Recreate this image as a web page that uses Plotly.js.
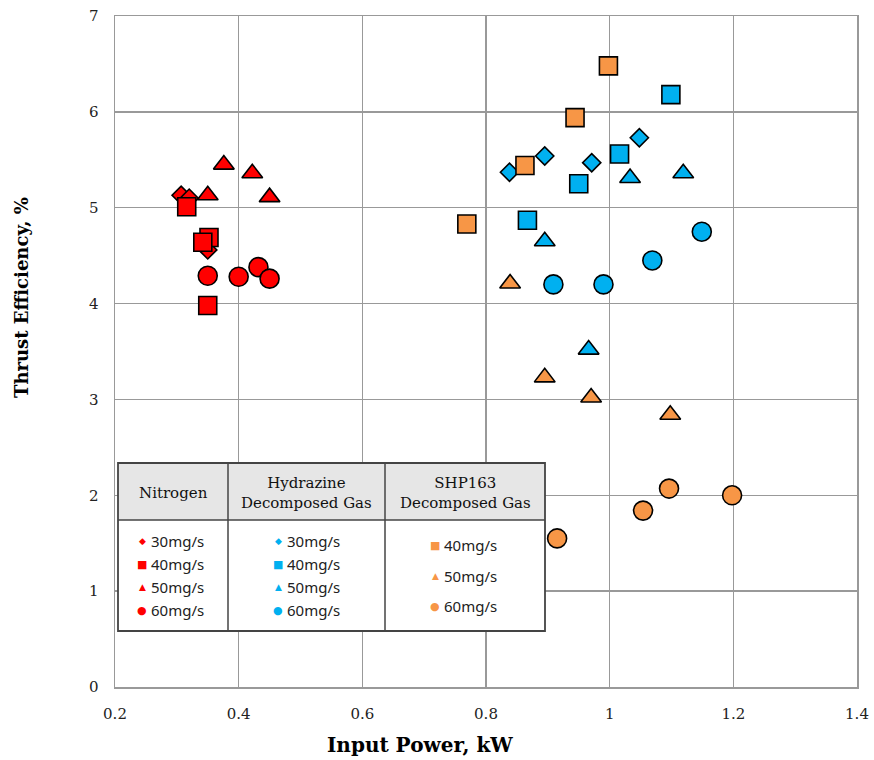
<!DOCTYPE html>
<html>
<head>
<meta charset="utf-8">
<script src="https://cdn.plot.ly/plotly-3.0.1.min.js"></script>
<style>html,body{margin:0;padding:0;background:#fff;}#chart{width:874px;height:760px;}</style>
</head>
<body>
<div id="chart"></div>
<script>
// ---- Data (Input Power kW, Thrust Efficiency %) ----
const n2_30_x = [0.307, 0.320, 0.350];
const n2_30_y = [5.13, 5.10, 4.56];
const n2_40_x = [0.316, 0.352, 0.342, 0.350];
const n2_40_y = [5.01, 4.69, 4.64, 3.98];
const n2_50_x = [0.376, 0.422, 0.350, 0.450];
const n2_50_y = [5.45, 5.36, 5.13, 5.11];
const n2_60_x = [0.350, 0.400, 0.432, 0.450];
const n2_60_y = [4.29, 4.28, 4.38, 4.26];

const hy_30_x = [0.838, 0.895, 0.971, 1.048];
const hy_30_y = [5.37, 5.54, 5.47, 5.73];
const hy_40_x = [1.099, 1.016, 0.950, 0.867];
const hy_40_y = [6.18, 5.56, 5.25, 4.87];
const hy_50_x = [1.033, 1.119, 0.895, 0.966];
const hy_50_y = [5.31, 5.36, 4.65, 3.52];
const hy_60_x = [1.149, 1.069, 0.909, 0.990];
const hy_60_y = [4.75, 4.45, 4.20, 4.20];

const shp_40_x = [0.998, 0.944, 0.863, 0.769];
const shp_40_y = [6.48, 5.94, 5.44, 4.83];
const shp_50_x = [0.839, 0.895, 0.970, 1.098];
const shp_50_y = [4.21, 3.23, 3.02, 2.84];
const shp_60_x = [0.915, 1.054, 1.096, 1.198];
const shp_60_y = [1.55, 1.84, 2.07, 2.00];

const xTicks = [0.2, 0.4, 0.6, 0.8, 1, 1.2, 1.4];
const yTicks = [0, 1, 2, 3, 4, 5, 6, 7];
const groupNames = ["Nitrogen", "Hydrazine<br>Decomposed Gas", "SHP163<br>Decomposed Gas"];
const flowLabels = ["30mg/s", "40mg/s", "50mg/s", "60mg/s"];

// ---- Styles ----
const RED = "#ff0000", BLUE = "#00b0f0", ORANGE = "#f79646";
const symSize = {diamond: 14, square: 18, "triangle-up": 18, circle: 19};

function tr(x, y, color, symbol, name) {
  return {
    type: "scatter", mode: "markers", x: x, y: y, name: name, showlegend: false,
    marker: {color: color, symbol: symbol, size: symSize[symbol], line: {color: "#000", width: 1.6}},
    cliponaxis: false
  };
}

const traces = [
  tr(n2_60_x, n2_60_y, RED, "circle", "N2 60"),
  tr(n2_50_x, n2_50_y, RED, "triangle-up", "N2 50"),
  tr(n2_30_x, n2_30_y, RED, "diamond", "N2 30"),
  tr(n2_40_x, n2_40_y, RED, "square", "N2 40"),
  tr(hy_60_x, hy_60_y, BLUE, "circle", "Hy 60"),
  tr(hy_50_x, hy_50_y, BLUE, "triangle-up", "Hy 50"),
  tr(hy_30_x, hy_30_y, BLUE, "diamond", "Hy 30"),
  tr(hy_40_x, hy_40_y, BLUE, "square", "Hy 40"),
  tr(shp_60_x, shp_60_y, ORANGE, "circle", "SHP 60"),
  tr(shp_50_x, shp_50_y, ORANGE, "triangle-up", "SHP 50"),
  tr(shp_40_x, shp_40_y, ORANGE, "square", "SHP 40")
];

// ---- Legend table (paper coords from pixel positions) ----
const W = 874, H = 760, ML = 115, MR = 17, MT = 16, MB = 73;
const PW = W - ML - MR, PH = H - MT - MB;
const px = v => (v - ML) / PW;
const py = v => (H - MB - v) / PH;

const shapes = [];
const annotations = [];
const tL = 118, tR = 545, tT = 463, tB = 631, hB = 520;
const cols = [tL, 228, 385, tR];
shapes.push({type: "rect", xref: "paper", yref: "paper", x0: px(tL), x1: px(tR), y0: py(tB), y1: py(tT),
  fillcolor: "#ffffff", line: {width: 0}, layer: "above"});
shapes.push({type: "rect", xref: "paper", yref: "paper", x0: px(tL), x1: px(tR), y0: py(hB), y1: py(tT),
  fillcolor: "#e6e6e6", line: {width: 0}, layer: "above"});
shapes.push({type: "rect", xref: "paper", yref: "paper", x0: px(tL), x1: px(tR), y0: py(tB), y1: py(tT),
  fillcolor: "rgba(0,0,0,0)", line: {color: "#444", width: 1.8}, layer: "above"});
shapes.push({type: "line", xref: "paper", yref: "paper", x0: px(tL), x1: px(tR), y0: py(hB), y1: py(hB),
  line: {color: "#444", width: 1.5}, layer: "above"});
[cols[1], cols[2]].forEach(c => shapes.push({type: "line", xref: "paper", yref: "paper",
  x0: px(c), x1: px(c), y0: py(tB), y1: py(tT), line: {color: "#444", width: 1.5}, layer: "above"}));

const hdrFont = {family: "DejaVu Serif, serif", size: 15, color: "#111"};
const bodyFont = {family: "Noto Sans, Liberation Sans, sans-serif", size: 15, color: "#222"};
for (let i = 0; i < 3; i++) {
  annotations.push({xref: "paper", yref: "paper", x: px((cols[i] + cols[i + 1]) / 2), y: py((tT + hB) / 2 + 1),
    text: groupNames[i], showarrow: false, font: hdrFont, xanchor: "center", yanchor: "middle", align: "center"});
}
const symChars = {diamond: "\u25C6", square: "\u25A0", triangle: "\u25B2", circle: "\u25CF"};
const symOrder = ["diamond", "square", "triangle", "circle"];
const symFs = {diamond: 9, square: 11, triangle: 9, circle: 11};
function legendItem(xs, ys, color, sym, label) {
  annotations.push({xref: "paper", yref: "paper", x: px(xs), y: py(ys), text: symChars[sym], showarrow: false,
    font: {family: "DejaVu Sans", size: symFs[sym], color: color}, xanchor: "center", yanchor: "middle"});
  annotations.push({xref: "paper", yref: "paper", x: px(xs + 7), y: py(ys), text: label, showarrow: false,
    font: bodyFont, xanchor: "left", yanchor: "middle"});
}
const rowsY = [541, 564, 587, 610];
for (let k = 0; k < 4; k++) legendItem(142, rowsY[k], RED, symOrder[k], flowLabels[k]);
for (let k = 0; k < 4; k++) legendItem(278, rowsY[k], BLUE, symOrder[k], flowLabels[k]);
const shpRows = [545, 576, 606];
for (let k = 0; k < 3; k++) legendItem(435, shpRows[k], ORANGE, symOrder[k + 1], flowLabels[k + 1]);

// axis titles
annotations.push({xref: "paper", yref: "paper", x: px(420), y: py(745), text: "Input Power, kW", showarrow: false,
  font: {family: "DejaVu Serif, serif", size: 20, color: "#000", weight: "bold"}, xanchor: "center", yanchor: "middle"});
annotations.push({xref: "paper", yref: "paper", x: px(21), y: py(298), text: "Thrust Efficiency, %", showarrow: false,
  textangle: -90, font: {family: "DejaVu Serif, serif", size: 18, color: "#000", weight: "bold"}, xanchor: "center", yanchor: "middle"});

const layout = {
  width: W, height: H,
  margin: {l: ML, r: MR, t: MT, b: MB, pad: 0},
  paper_bgcolor: "#fff", plot_bgcolor: "#fff",
  showlegend: false,
  xaxis: {range: [0.2, 1.4], tickvals: xTicks, ticktext: xTicks.map(String), showgrid: true, gridcolor: "#999", gridwidth: 1.5,
    zeroline: false, showline: true, linecolor: "#999", linewidth: 1.5, mirror: true, ticks: "", ticklen: 0,
    ticklabelstandoff: 12,
    tickfont: {family: "DejaVu Serif, serif", size: 15, color: "#222"}, fixedrange: true},
  yaxis: {range: [0, 7], tickvals: yTicks, showgrid: true, gridcolor: "#999", gridwidth: 1.5,
    zeroline: false, showline: true, linecolor: "#999", linewidth: 1.5, mirror: true, ticks: "", ticklen: 0,
    ticklabelstandoff: 12,
    tickfont: {family: "DejaVu Serif, serif", size: 15, color: "#222"}, fixedrange: true},
  shapes: shapes,
  annotations: annotations
};

Plotly.newPlot("chart", traces, layout, {displayModeBar: false, staticPlot: true});
</script>
</body>
</html>
